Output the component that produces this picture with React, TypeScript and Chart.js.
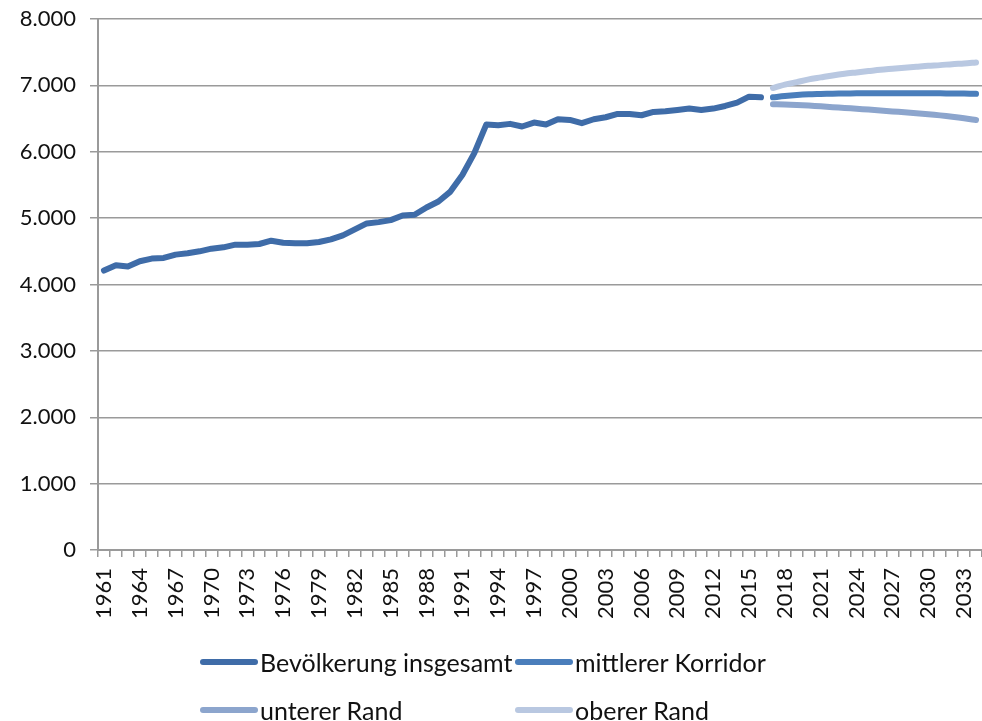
import React, { useEffect, useRef } from "react";
import { Chart, registerables } from "chart.js";

Chart.register(...registerables);

const years: string[] = [
  "1961","1962","1963","1964","1965","1966","1967","1968","1969","1970",
  "1971","1972","1973","1974","1975","1976","1977","1978","1979","1980",
  "1981","1982","1983","1984","1985","1986","1987","1988","1989","1990",
  "1991","1992","1993","1994","1995","1996","1997","1998","1999","2000",
  "2001","2002","2003","2004","2005","2006","2007","2008","2009","2010",
  "2011","2012","2013","2014","2015","2016","2017","2018","2019","2020",
  "2021","2022","2023","2024","2025","2026","2027","2028","2029","2030",
  "2031","2032","2033","2034",
];

// 1961–2016
const bevoelkerung: number[] = [
  4210, 4290, 4270, 4350, 4390, 4400, 4450, 4470, 4500, 4540,
  4560, 4600, 4600, 4610, 4660, 4630, 4620, 4620, 4640, 4680,
  4740, 4830, 4920, 4940, 4970, 5040, 5050, 5160, 5250, 5400,
  5650, 5980, 6410, 6400, 6420, 6380, 6440, 6410, 6490, 6480,
  6430, 6490, 6520, 6570, 6570, 6550, 6600, 6610, 6630, 6650,
  6630, 6650, 6690, 6740, 6830, 6820,
];

// 2017–2034
const mittlerer: number[] = [
  6820, 6840, 6855, 6865, 6870, 6875, 6878, 6880, 6880, 6880,
  6880, 6880, 6880, 6880, 6880, 6878, 6876, 6872,
];
const unterer: number[] = [
  6715, 6712, 6705, 6695, 6685, 6672, 6660, 6648, 6635, 6622,
  6608, 6594, 6580, 6565, 6548, 6528, 6505, 6478,
];
const oberer: number[] = [
  6960, 7010, 7050, 7090, 7120, 7150, 7175, 7195, 7215, 7235,
  7250, 7265, 7280, 7295, 7305, 7320, 7330, 7345,
];

const labels = {
  bev: "Bevölkerung insgesamt",
  mit: "mittlerer Korridor",
  unt: "unterer Rand",
  obe: "oberer Rand",
};

const COLORS = {
  bev: "#3f6ca8",
  mit: "#4a7ebb",
  unt: "#8ca5cd",
  obe: "#b9c8e1",
};

const FONT = "Lato, 'Open Sans', sans-serif";

function fmt(v: number): string {
  return String(Math.round(v)).replace(/\B(?=(\d{3})+(?!\d))/g, ".");
}

export default function App() {
  const ref = useRef<HTMLCanvasElement | null>(null);

  useEffect(() => {
    document.body.style.margin = "0";
    const histLen = bevoelkerung.length;
    const bevData = years.map((_, i) => (i < histLen ? bevoelkerung[i] : null));
    const proj = (arr: number[]) =>
      years.map((_, i) => (i >= histLen && i - histLen < arr.length ? arr[i - histLen] : null));

    const common = {
      pointRadius: 0,
      pointHoverRadius: 0,
      borderWidth: 6,
      borderCapStyle: "round" as const,
      borderJoinStyle: "round" as const,
      fill: false,
      spanGaps: false,
    };

    const chart = new Chart(ref.current!, {
      type: "line",
      data: {
        labels: years,
        datasets: [
          { ...common, label: labels.obe, data: proj(oberer), borderColor: COLORS.obe, tension: 0.3 },
          { ...common, label: labels.unt, data: proj(unterer), borderColor: COLORS.unt, tension: 0.3 },
          { ...common, label: labels.mit, data: proj(mittlerer), borderColor: COLORS.mit, tension: 0.3 },
          { ...common, label: labels.bev, data: bevData, borderColor: COLORS.bev, tension: 0 },
        ],
      },
      options: {
        animation: false,
        responsive: false,
        maintainAspectRatio: false,
        layout: { padding: { top: 19, right: 0, left: 0, bottom: 0 } },
        plugins: {
          legend: { display: false },
          tooltip: { enabled: false },
        },
        scales: {
          x: {
            type: "category",
            offset: true,
            grid: {
              offset: true,
              drawOnChartArea: false,
              drawTicks: true,
              tickLength: 7,
              color: "#9a9a9a",
              lineWidth: 1.5,
            },
            border: { display: true, color: "#9a9a9a", width: 2 },
            ticks: {
              autoSkip: false,
              maxRotation: 90,
              minRotation: 90,
              padding: 11,
              color: "#111",
              font: { family: FONT, size: 22 },
              callback: (_v: any, i: number) => (i % 3 === 0 ? years[i] : ""),
            },
            afterFit: (s: any) => {
              s.height = 721 - 550;
              s.paddingLeft = 0;
              s.paddingRight = 0;
            },
          },
          y: {
            min: 0,
            max: 8000,
            ticks: {
              stepSize: 1000,
              padding: 14,
              color: "#111",
              font: { family: FONT, size: 22 },
              callback: (v: any) => fmt(Number(v)),
            },
            grid: {
              color: "#9a9a9a",
              lineWidth: 1.5,
              tickLength: 8,
            },
            border: { display: true, color: "#9a9a9a", width: 2 },
            afterFit: (s: any) => {
              s.width = 98;
              s.paddingTop = 0;
              s.paddingBottom = 0;
            },
          },
        },
      },
    });
    return () => chart.destroy();
  }, []);

  const item = (color: string, text: string, left: number, top: number) => (
    <div
      style={{
        position: "absolute",
        left,
        top,
        display: "flex",
        alignItems: "center",
        height: 30,
        fontFamily: FONT,
        fontSize: 25,
        color: "#111",
        whiteSpace: "nowrap",
      }}
    >
      <span
        style={{
          display: "inline-block",
          width: 58,
          height: 6,
          borderRadius: 3,
          background: color,
          marginRight: 2,
        }}
      />
      <span>{text}</span>
    </div>
  );

  return (
    <div style={{ position: "relative", width: 982, height: 721, overflow: "hidden", background: "#fff" }}>
      <canvas ref={ref} width={982} height={721} style={{ position: "absolute", left: 0, top: 0 }} />
      {item(COLORS.bev, labels.bev, 200, 647)}
      {item(COLORS.mit, labels.mit, 515, 647)}
      {item(COLORS.unt, labels.unt, 200, 695)}
      {item(COLORS.obe, labels.obe, 515, 695)}
    </div>
  );
}
